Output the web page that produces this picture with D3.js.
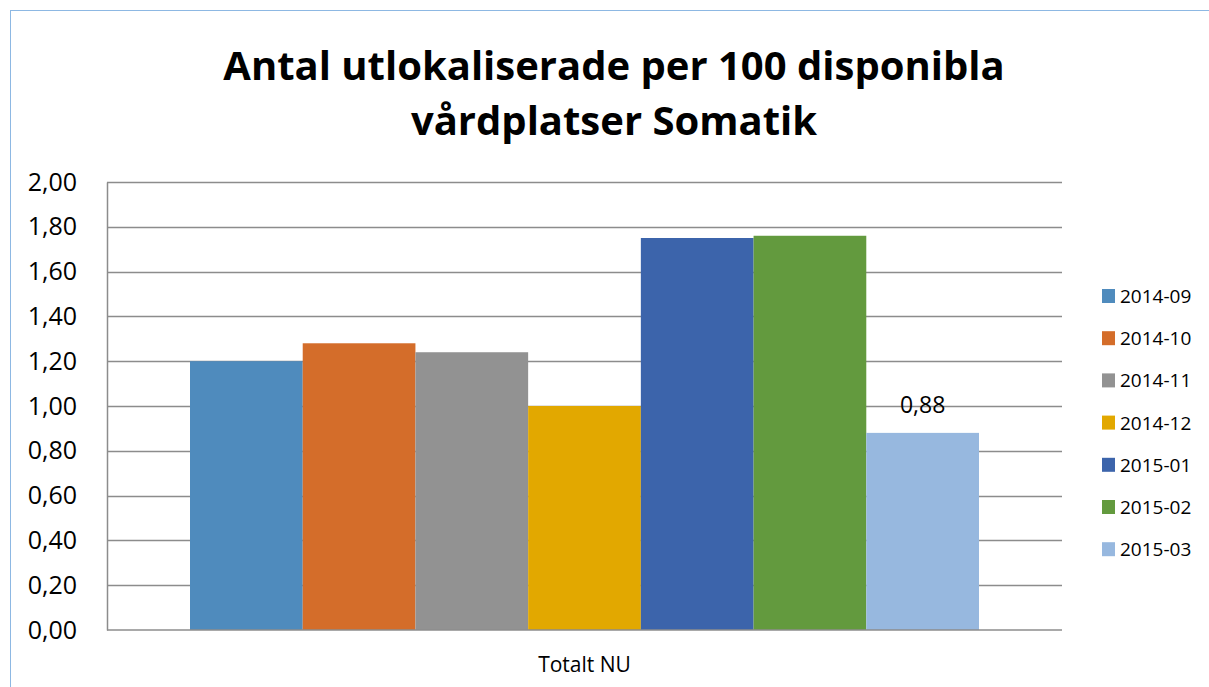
<!DOCTYPE html>
<html>
<head>
<meta charset="utf-8">
<script src="https://cdn.jsdelivr.net/npm/d3@7"></script>
<style>
  body { margin: 0; background: #fff; }
  text { font-family: "Open Sans", "Noto Sans", sans-serif; }
</style>
</head>
<body>
<svg id="chart"></svg>
<script>
const category = 'Totalt NU';
const months = ['2014-09', '2014-10', '2014-11', '2014-12', '2015-01', '2015-02', '2015-03'];
const values = [1.20, 1.28, 1.24, 1.00, 1.75, 1.76, 0.88];
const colors = ['#4f8bbd', '#d46d2a', '#929292', '#e2a800', '#3c64ab', '#639a3e', '#97b8df'];
const yTicks = [0, 0.2, 0.4, 0.6, 0.8, 1.0, 1.2, 1.4, 1.6, 1.8, 2.0];
const labelled = ['2015-03'];

const W = 1209, H = 687;
const margin = { top: 182, right: 147, bottom: 57, left: 107 };
const width = W - margin.left - margin.right;
const height = H - margin.top - margin.bottom;

const svg = d3.select('#chart').attr('width', W).attr('height', H);

// outer chart border (runs off the right and bottom edges)
svg.append('rect')
  .attr('x', 10.5).attr('y', 10.5)
  .attr('width', W + 10).attr('height', H + 10)
  .attr('fill', 'none').attr('stroke', '#8db8e3').attr('stroke-width', 1);

svg.append('text')
  .attr('x', 614).attr('text-anchor', 'middle')
  .attr('font-size', 40).attr('font-weight', 'bold').attr('fill', '#000')
  .selectAll('tspan')
  .data(['Antal utlokaliserade per 100 disponibla', 'vårdplatser Somatik'])
  .join('tspan')
  .attr('x', 614)
  .attr('y', (d, i) => 80 + i * 55)
  .text(d => d);

const g = svg.append('g').attr('transform', 'translate(' + margin.left + ',' + margin.top + ')');

const x0 = d3.scaleBand().domain([category]).range([0, width]).paddingInner(0).paddingOuter(0);
const x1 = d3.scaleBand().domain(months).range([83, width - 83]);
const y = d3.scaleLinear().domain([0, 2]).range([height, 0]);

// gridlines
g.append('g')
  .selectAll('line')
  .data(yTicks.slice(1))
  .join('line')
  .attr('x1', 0).attr('x2', width)
  .attr('y1', d => Math.round(y(d)) + 0.5).attr('y2', d => Math.round(y(d)) + 0.5)
  .attr('stroke', '#8c8c8c').attr('stroke-width', 1.5);

// bars
g.append('g')
  .selectAll('rect')
  .data(months.map((m, i) => ({ m, v: values[i], c: colors[i] })))
  .join('rect')
  .attr('x', d => x0(category) + x1(d.m))
  .attr('y', d => y(d.v))
  .attr('width', x1.bandwidth())
  .attr('height', d => height - y(d.v))
  .attr('fill', d => d.c);

// data label
g.append('g')
  .selectAll('text')
  .data(months.map((m, i) => ({ m, v: values[i] })).filter(d => labelled.includes(d.m)))
  .join('text')
  .attr('x', d => x1(d.m) + x1.bandwidth() / 2)
  .attr('y', d => y(d.v) - 20)
  .attr('text-anchor', 'middle')
  .attr('font-size', 23).attr('fill', '#000')
  .text(d => d3.format('.2f')(d.v).replace('.', ','));

// axes
const yAxis = d3.axisLeft(y).tickValues(yTicks).tickSize(0).tickPadding(30)
  .tickFormat(d => d3.format('.2f')(d).replace('.', ','));
const ya = g.append('g').call(yAxis);
ya.select('.domain').attr('stroke', '#8c8c8c').attr('stroke-width', 1.5);
ya.selectAll('text').attr('font-size', 25).attr('fill', '#000').attr('font-family', '"Open Sans", sans-serif');

const xAxis = d3.axisBottom(x0).tickSize(0).tickPadding(27);
const xa = g.append('g').attr('transform', 'translate(0,' + height + ')').call(xAxis);
xa.select('.domain').attr('stroke', '#8c8c8c').attr('stroke-width', 1.5).attr('d', 'M0,0H' + width);
xa.selectAll('text').attr('font-size', 21).attr('fill', '#000').attr('font-family', '"Open Sans", sans-serif');

// legend
const legend = svg.append('g').attr('transform', 'translate(1102,289)');
const item = legend.selectAll('g')
  .data(months)
  .join('g')
  .attr('transform', (d, i) => 'translate(0,' + (i * 42.2) + ')');
item.append('rect').attr('width', 13).attr('height', 14).attr('fill', (d, i) => colors[i]);
item.append('text').attr('x', 18).attr('y', 14).attr('font-size', 19).attr('fill', '#000').text(d => d);
</script>
</body>
</html>
